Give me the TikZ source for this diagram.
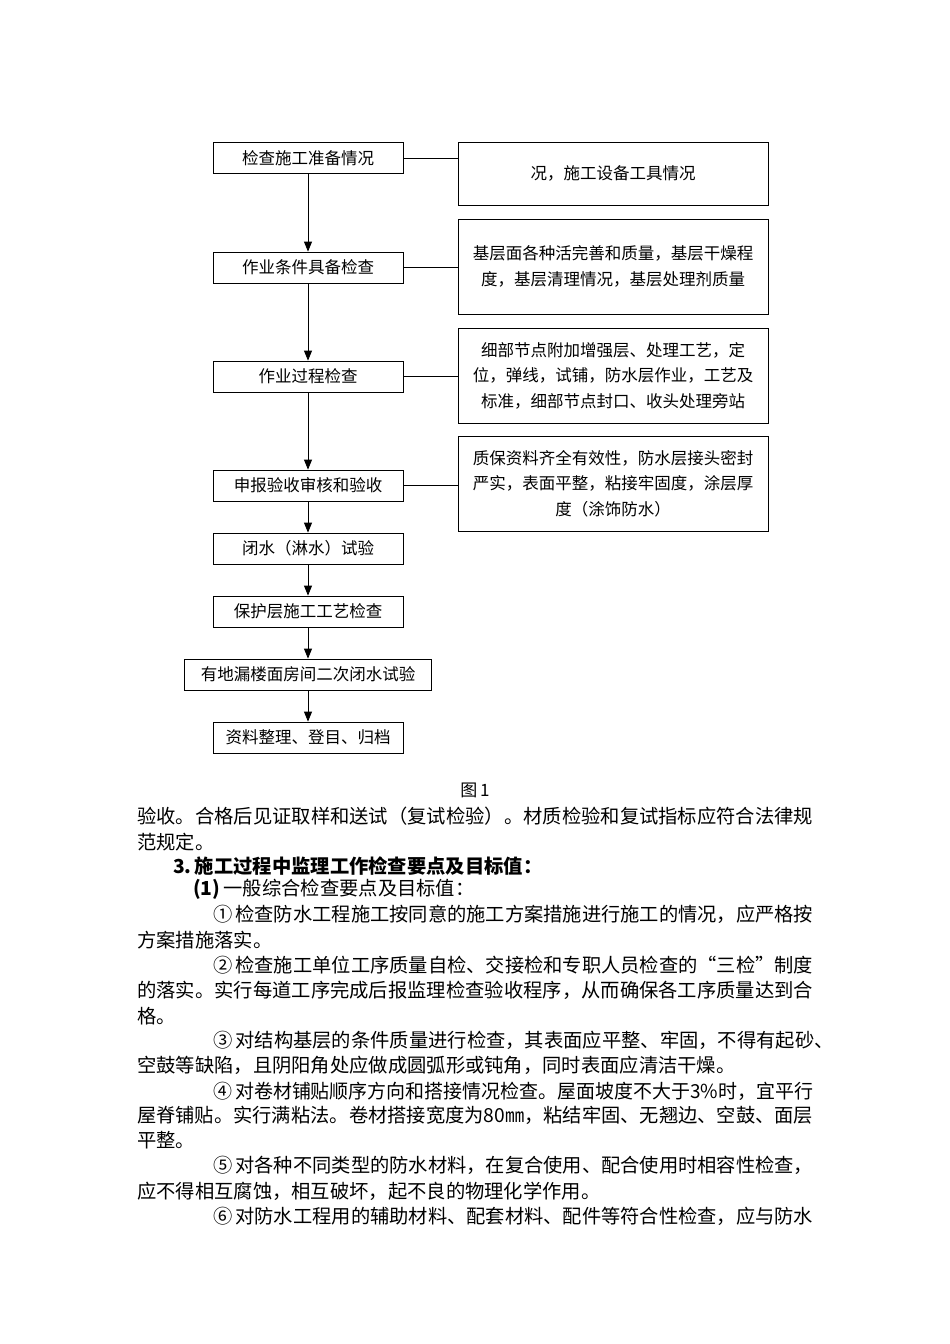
\documentclass[tikz,border=0pt]{standalone}
\usepackage{fontspec}
\usepackage{graphicx}
\setmainfont{Noto Sans CJK SC}
\usetikzlibrary{arrows.meta, positioning}

% stretch or squeeze one printed line to the measure
\newcommand\fulline[2]{\resizebox{#1}{\height}{#2}}

\tikzset{
  stepbox/.style = {draw, line width=0.8pt, minimum width=190pt, minimum height=31pt,
    inner sep=2pt, font=\fontsize{16.5}{20}\selectfont},
  notebox/.style = {draw, line width=0.8pt, minimum width=310pt, minimum height=95pt,
    inner sep=2pt, align=center, font=\fontsize{16.5}{25.5}\selectfont},
  flow/.style = {-{Triangle[width=8pt,length=10pt]}, line width=0.8pt},
  link/.style = {line width=0.8pt},
  txt/.style = {anchor=west, inner sep=0pt, font=\fontsize{19.3}{24}\selectfont}
}

\begin{document}
\begin{tikzpicture} [x=1pt, y=-1pt, node distance = 2cm, on grid]

\useasboundingbox [fill=white] (0,0) rectangle (950,1344);

% flow column
\node (b1) [stepbox] at (308,158) {检查施工准备情况};
\node (b2) [stepbox, below = 109.5pt of b1] {作业条件具备检查};
\node (b3) [stepbox, below = 109pt of b2] {作业过程检查};
\node (b4) [stepbox, below = 109pt of b3] {申报验收审核和验收};
\node (b5) [stepbox, below = 63pt of b4] {闭水（淋水）试验};
\node (b6) [stepbox, below = 63pt of b5] {保护层施工工艺检查};
\node (b7) [stepbox, minimum width=247pt, below = 63pt of b6] {有地漏楼面房间二次闭水试验};
\node (b8) [stepbox, below = 63pt of b7] {资料整理、登目、归档};

% notes on the right
\node (r1) [notebox, minimum height=63pt, right = 305pt of b1, yshift=-15.5pt] {况，施工设备工具情况};
\node (r2) [notebox, right = 305pt of b2, yshift=1pt] {基层面各种活完善和质量，基层干燥程\\度，基层清理情况，基层处理剂质量};
\node (r3) [notebox, right = 305pt of b3, yshift=1pt] {细部节点附加增强层、处理工艺，定\\位，弹线，试铺，防水层作业，工艺及\\标准，细部节点封口、收头处理旁站};
\node (r4) [notebox, right = 305pt of b4, yshift=2pt] {质保资料齐全有效性，防水层接头密封\\严实，表面平整，粘接牢固度，涂层厚\\度（涂饰防水）};

\draw [flow] (b1) -- (b2);
\draw [flow] (b2) -- (b3);
\draw [flow] (b3) -- (b4);
\draw [flow] (b4) -- (b5);
\draw [flow] (b5) -- (b6);
\draw [flow] (b6) -- (b7);
\draw [flow] (b7) -- (b8);

\draw [link] (b1.east) -- (b1.east -| r1.west);
\draw [link] (b2.east) -- (b2.east -| r2.west);
\draw [link] (b3.east) -- (b3.east -| r3.west);
\draw [link] (b4.east) -- (b4.east -| r4.west);

% caption and running text
\node (cap) [font=\fontsize{17}{20}\selectfont, inner sep=0pt] at (475,790) {图\,1};

\node (l1) [txt] at (137,816) {\fulline{676pt}{验收。合格后见证取样和送试（复试检验）。材质检验和复试指标应符合法律规}};
\node (l2) [txt] at (137,842) {范规定。};
\node (l3) [txt] at (173,866) {\bfseries 3.\,施工过程中监理工作检查要点及目标值：};
\node (l4) [txt] at (193,889) {\textbf{(1)}\,一般综合检查要点及目标值：};
\node (l5) [txt] at (213,914) {\fulline{600pt}{①\kern3pt 检查防水工程施工按同意的施工方案措施进行施工的情况，应严格按}};
\node (l6) [txt] at (137,940) {方案措施落实。};
\node (l7) [txt] at (213,965) {\fulline{600pt}{②\kern3pt 检查施工单位工序质量自检、交接检和专职人员检查的“三检”制度}};
\node (l8) [txt] at (137,990) {\fulline{676pt}{的落实。实行每道工序完成后报监理检查验收程序，从而确保各工序质量达到合}};
\node (l9) [txt] at (137,1016) {格。};
\node (l10) [txt] at (213,1040) {③\kern3pt 对结构基层的条件质量进行检查，其表面应平整、牢固，不得有起砂、};
\node (l11) [txt] at (137,1065) {空鼓等缺陷，且阴阳角处应做成圆弧形或钝角，同时表面应清洁干燥。};
\node (l12) [txt] at (213,1091) {\fulline{600pt}{④\kern3pt 对卷材铺贴顺序方向和搭接情况检查。屋面坡度不大于3\%时，宜平行}};
\node (l13) [txt] at (137,1115) {\fulline{676pt}{屋脊铺贴。实行满粘法。卷材搭接宽度为80㎜，粘结牢固、无翘边、空鼓、面层}};
\node (l14) [txt] at (137,1140) {平整。};
\node (l15) [txt] at (213,1165) {\fulline{600pt}{⑤\kern3pt 对各种不同类型的防水材料，在复合使用、配合使用时相容性检查，}};
\node (l16) [txt] at (137,1191) {应不得相互腐蚀，相互破坏，起不良的物理化学作用。};
\node (l17) [txt] at (213,1216) {\fulline{600pt}{⑥\kern3pt 对防水工程用的辅助材料、配套材料、配件等符合性检查，应与防水}};

\end{tikzpicture}
\end{document}
